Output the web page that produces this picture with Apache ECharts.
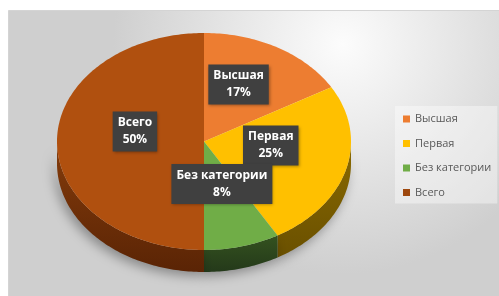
<!DOCTYPE html>
<html><head><meta charset="utf-8">
<script src="https://cdn.jsdelivr.net/npm/echarts@6/dist/echarts.min.js"></script>
<style>html,body{margin:0;padding:0;background:#fff}#c{width:499px;height:296px}</style>
</head><body><div id="c"></div>
<script>
const categories = ['Высшая', 'Первая', 'Без категории', 'Всего'];
const values = [2, 3, 1, 6];
const legendColors = ['#ED7D31', '#FFC000', '#70AD47', '#9E480E'];
const topColors = ['#ED7D31', '#FFC000', '#70AD47', '#B0500F'];
const sideColors = [['#8a4a1c', '#6b3810'], ['#8a6a00', '#6a5000'], ['#34521f', '#24391a'], ['#853c0b', '#5a2405']];

const CX = 204, CY = 141.5, RX = 147, RY = 108.5, DEPTH = 22;
const total = values.reduce((a, b) => a + b, 0);
const starts = [];
let acc = 0;
values.forEach(v => { starts.push(acc / total * 360); acc += v; });

function pt(deg, dz) {
  const r = deg * Math.PI / 180;
  return [CX + RX * Math.sin(r), CY - RY * Math.cos(r) + (dz || 0)];
}
function arc(a, b, dz) {
  const pts = [];
  const n = Math.max(2, Math.ceil(Math.abs(b - a)));
  for (let i = 0; i <= n; i++) pts.push(pt(a + (b - a) * i / n, dz));
  return pts;
}

function makeRender(idx) {
  return function (params, api) {
    const v = api.value(0);
    const a = starts[idx], b = a + v / total * 360;
    const children = [];
    const s = Math.max(a, 90), e = Math.min(b, 270);
    if (s < e) {
      const pts = arc(s, e, 0).concat(arc(e, s, DEPTH));
      children.push({
        type: 'polygon', z2: 1,
        shape: { points: pts },
        style: {
          fill: { type: 'linear', x: 0, y: 0, x2: 0, y2: 1, colorStops: [{ offset: 0, color: sideColors[idx][0] }, { offset: 1, color: sideColors[idx][1] }] },
          shadowColor: 'rgba(0,0,0,0.35)', shadowBlur: 12, shadowOffsetX: -3, shadowOffsetY: 4
        }
      });
    }
    const topPts = [[CX, CY]].concat(arc(a, b, 0));
    children.push({ type: 'polygon', z2: 5, shape: { points: topPts }, style: { fill: topColors[idx] } });
    const mid = (a + b) / 2;
    const lp = [CX + RX * 0.47 * Math.sin(mid * Math.PI / 180), CY - RY * 0.5 * Math.cos(mid * Math.PI / 180) - 10];
    const pct = Math.round(v / total * 100);
    children.push({
      type: 'text', z2: 50,
      style: {
        text: categories[idx] + '\n' + pct + '%', x: lp[0], y: lp[1],
        align: 'center', verticalAlign: 'middle', fill: '#ffffff',
        font: 'bold 12px "Open Sans"', lineHeight: 17,
        backgroundColor: '#404040', padding: [3, 5],
        shadowColor: 'rgba(0,0,0,0.35)', shadowBlur: 3, shadowOffsetX: 1, shadowOffsetY: 1
      }
    });
    return { type: 'group', children: children };
  };
}

const series = categories.map((name, i) => ({
  type: 'custom', name: name, coordinateSystem: 'none', silent: true,
  itemStyle: { color: legendColors[i] },
  renderItem: makeRender(i),
  data: [[values[i]]]
}));

const chart = echarts.init(document.getElementById('c'), null, { renderer: 'canvas' });
chart.setOption({
  animation: false,
  graphic: [{
    type: 'rect', z: -10, silent: true,
    shape: { x: 8.5, y: 10.5, width: 491, height: 286 },
    style: {
      fill: { type: 'radial', x: 0.68, y: 0.12, r: 0.8, colorStops: [{ offset: 0, color: '#fcfcfc' }, { offset: 1, color: '#cfcfcf' }] },
      stroke: '#d4d4d4', lineWidth: 1
    }
  }],
  legend: {
    data: categories, orient: 'vertical', left: 395, top: 106,
    icon: 'rect', itemWidth: 7, itemHeight: 7, itemGap: 10.5,
    padding: [6, 6, 4, 8],
    backgroundColor: 'rgba(255,255,255,0.4)',
    textStyle: { color: '#595959', fontSize: 11, fontFamily: 'Open Sans', lineHeight: 14 },
    selectedMode: false
  },
  series: series
});
</script></body></html>
